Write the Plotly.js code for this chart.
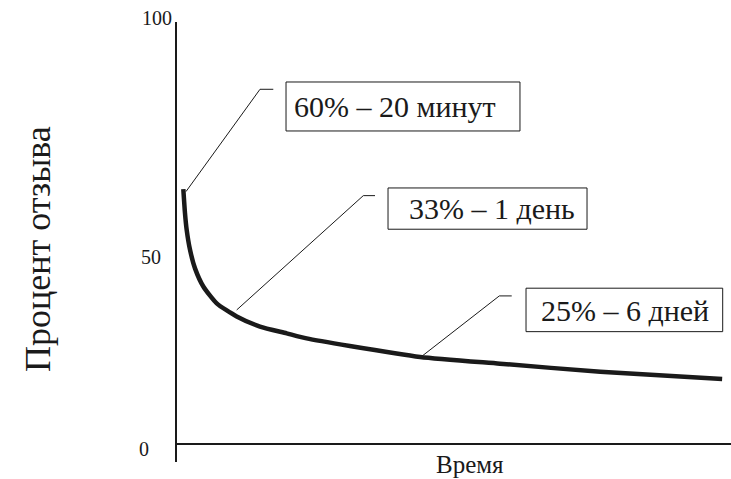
<!DOCTYPE html>
<html>
<head>
<meta charset="utf-8">
<script src="https://cdn.plot.ly/plotly-3.0.1.min.js"></script>
<style>html,body{margin:0;padding:0;background:#fff}#chart{width:731px;height:479px}</style>
</head>
<body>
<div id="chart"></div>
<script>
// Forgetting curve (schematic)
const timeValues   = [1.14, 1.44, 1.75, 2.35, 3.25, 4.75, 7.17, 10.78, 14.98, 19.8, 23.4, 31.2, 43.9, 58.3, 76.4, 98.4];
const recallValues = [60.4, 54.7, 50.7, 46.0, 41.6, 37.3, 33.3, 30.2, 27.8, 26.2, 25.0, 23.2, 20.6, 19.0, 17.1, 15.4];

// Y tick labels (paper-relative positions matching the drawing)
const yTickText = ['0', '50', '100'];
const yTickPaper = [0.0295, 0.467, 1.0];
const yTickShiftY = [0, 0, 4];
const yTickShiftX = [-33, -26, -20];

// Callout labels and the curve points they point to
const calloutText   = ['60% – 20 минут', '33% – 1 день', '25% – 6 дней'];
const calloutAnchorX = [1.62, 10.78, 43.99];
const calloutAnchorY = [59.8, 31.75, 20.55];

// Layout of the callouts (elbow, end of leader, box, text centre)
const elbow = [[14.98, 84.05], [33.63, 58.84], [58.18, 35.07]];
const leaderEnd = [17.38, 35.74, 60.42];
const boxes = [[19.68, 61.91, 74.17, 85.78], [38.09, 74.01, 50.88, 60.66], [63.0, 98.5, 26.6, 36.9]];
const textPos = [[39.35, 79.9], [56.77, 55.7], [80.87, 31.7]];

const ink = '#1a1a1a';
const serif = 'Liberation Serif';

const trace = {
  x: timeValues, y: recallValues, type: 'scatter', mode: 'lines',
  line: {color: ink, width: 4.5, shape: 'spline', smoothing: 0.6},
  hoverinfo: 'skip'
};

const shapes = [];
const annotations = [];
for (let i = 0; i < calloutText.length; i++) {
  shapes.push({
    type: 'path', xref: 'x', yref: 'y',
    path: `M ${calloutAnchorX[i]} ${calloutAnchorY[i]} L ${elbow[i][0]} ${elbow[i][1]} L ${leaderEnd[i]} ${elbow[i][1]}`,
    line: {color: ink, width: 1}
  });
  shapes.push({
    type: 'rect', xref: 'x', yref: 'y',
    x0: boxes[i][0], x1: boxes[i][1], y0: boxes[i][2], y1: boxes[i][3],
    line: {color: ink, width: 1}, fillcolor: 'rgba(0,0,0,0)'
  });
  annotations.push({
    x: textPos[i][0], y: textPos[i][1], xref: 'x', yref: 'y',
    text: calloutText[i], showarrow: false, xanchor: 'center', yanchor: 'middle',
    font: {family: serif, size: 30, color: ink}
  });
}
for (let i = 0; i < yTickText.length; i++) {
  annotations.push({
    x: 0, xref: 'paper', y: yTickPaper[i], yref: 'paper',
    xshift: yTickShiftX[i], yshift: yTickShiftY[i],
    text: yTickText[i], showarrow: false, xanchor: 'center', yanchor: 'middle',
    font: {family: serif, size: 20, color: ink}
  });
}
annotations.push({
  x: 52.9, xref: 'x', y: 0, yref: 'paper', yshift: -2, text: 'Время', showarrow: false,
  xanchor: 'center', yanchor: 'middle', font: {family: serif, size: 25, color: ink}
});
annotations.push({
  x: 0, xref: 'paper', xshift: -139, y: 0.5, yref: 'paper', yshift: -7, text: 'Процент отзыва',
  textangle: -90, showarrow: false, xanchor: 'center', yanchor: 'middle',
  font: {family: serif, size: 36, color: ink}
});

const layout = {
  width: 731, height: 479,
  margin: {l: 177, r: 0, t: 22, b: 17},
  paper_bgcolor: '#fff', plot_bgcolor: '#fff',
  showlegend: false,
  xaxis: {range: [0, 100], showgrid: false, zeroline: false, showline: false,
          showticklabels: false, ticks: '', fixedrange: true},
  yaxis: {range: [-4.3, 100], showgrid: false, showline: true, linecolor: ink, linewidth: 2,
          zeroline: true, zerolinecolor: ink, zerolinewidth: 2,
          showticklabels: false, ticks: '', fixedrange: true},
  shapes: shapes,
  annotations: annotations
};

Plotly.newPlot('chart', [trace], layout, {displayModeBar: false, staticPlot: true});
</script>
</body>
</html>
